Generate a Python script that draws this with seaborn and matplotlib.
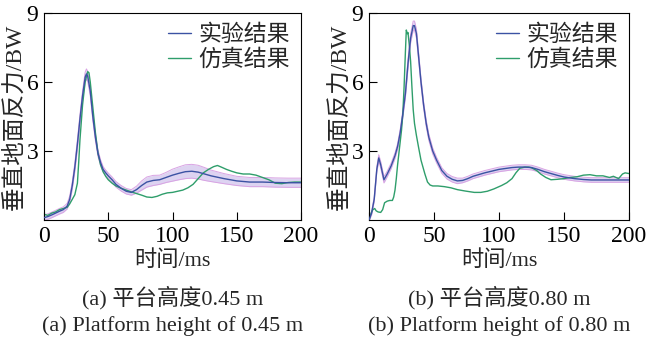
import numpy as np
import pandas as pd
import matplotlib
matplotlib.use("Agg")
import matplotlib.pyplot as plt
import seaborn as sns

sns.set_theme(style="ticks")
FONT = ['Liberation Serif', 'Noto Sans CJK SC', 'DejaVu Sans']
plt.rcParams['font.family'] = FONT
plt.rcParams['axes.unicode_minus'] = False

# ---------------- data ----------------
# (a) platform height 0.45 m
a_exp_t = [0, 3, 6, 9, 12, 15, 18, 20, 22, 24, 26, 28, 30, 32, 33, 34, 36, 38, 40, 42, 44, 46, 48, 50,
           53, 56, 60, 64, 68, 72, 76, 80, 85, 90, 95, 100, 105, 110, 115, 120, 125, 130, 140, 150,
           160, 170, 180, 190, 200]
a_exp_v = [0.1, 0.15, 0.22, 0.3, 0.38, 0.45, 0.6, 0.9, 1.5, 2.3, 3.3, 4.4, 5.4, 6.2, 6.35, 6.25, 5.6,
           4.5, 3.6, 2.9, 2.5, 2.2, 2.05, 1.92, 1.75, 1.55, 1.38, 1.25, 1.2, 1.32, 1.5, 1.65, 1.72,
           1.75, 1.85, 1.95, 2.03, 2.1, 2.12, 2.08, 2.0, 1.92, 1.8, 1.7, 1.65, 1.65, 1.63, 1.62, 1.62]
a_exp_sd = [0.12, 0.12, 0.12, 0.12, 0.12, 0.12, 0.12, 0.14, 0.16, 0.18, 0.2, 0.2, 0.2, 0.22, 0.22,
            0.22, 0.2, 0.18, 0.16, 0.14, 0.12, 0.12, 0.12, 0.12, 0.12, 0.12, 0.12, 0.12, 0.12, 0.15,
            0.2, 0.22, 0.22, 0.2, 0.22, 0.26, 0.28, 0.3, 0.3, 0.3, 0.28, 0.25, 0.22, 0.2, 0.2, 0.2,
            0.2, 0.2, 0.2]
a_sim_t = [0, 3, 6, 9, 12, 15, 18, 20, 22, 24, 26, 27, 28, 30, 32, 34, 35, 36, 38, 40, 42, 44, 46, 48,
           50, 53, 56, 60, 64, 68, 72, 76, 80, 84, 88, 92, 96, 100, 104, 108, 112, 116, 120, 124, 128,
           132, 135, 138, 142, 146, 150, 155, 160, 165, 170, 175, 180, 185, 190, 195, 200]
a_sim_v = [0.25, 0.2, 0.3, 0.35, 0.45, 0.5, 0.55, 0.7, 0.9, 1.1, 1.6, 2.5, 3.5, 5.0, 6.0, 6.45, 6.4,
           6.0, 4.9, 3.8, 2.9, 2.4, 2.1, 1.9, 1.75, 1.6, 1.48, 1.38, 1.3, 1.22, 1.15, 1.08, 1.0, 0.98,
           1.03, 1.12, 1.18, 1.2, 1.25, 1.3, 1.4, 1.55, 1.8, 2.05, 2.2, 2.32, 2.37, 2.3, 2.2, 2.12,
           2.05, 2.0, 2.0, 1.95, 1.85, 1.75, 1.6, 1.58, 1.63, 1.65, 1.65]

# (b) platform height 0.80 m
b_exp_t = [0, 2, 4, 6, 7.5, 9, 11.5, 14, 17, 20, 22, 24, 26, 28, 30, 32, 34, 35, 36.5, 38, 40, 42, 44,
           46, 49, 52, 56, 60, 64, 68, 72, 76, 80, 89, 100, 110, 115, 120, 125, 130, 135, 140, 145,
           150, 158, 165, 171, 180, 190, 200]
b_exp_v = [0.0, 0.3, 0.9, 2.2, 2.7, 2.4, 1.75, 2.0, 2.35, 2.8, 3.2, 3.8, 4.6, 5.5, 6.8, 7.9, 8.45, 8.45,
           8.1, 7.2, 6.0, 5.0, 4.2, 3.6, 3.0, 2.6, 2.15, 1.9, 1.77, 1.7, 1.72, 1.8, 1.9, 2.05, 2.2,
           2.28, 2.3, 2.3, 2.28, 2.2, 2.1, 2.02, 1.94, 1.87, 1.8, 1.76, 1.74, 1.74, 1.74, 1.74]
b_exp_sd = [0.05, 0.08, 0.1, 0.12, 0.14, 0.14, 0.14, 0.12, 0.12, 0.12, 0.12, 0.14, 0.16, 0.18, 0.2,
            0.2, 0.2, 0.2, 0.2, 0.18, 0.16, 0.14, 0.14, 0.14, 0.13, 0.12, 0.12, 0.12, 0.12, 0.12, 0.1,
            0.1, 0.1, 0.1, 0.1, 0.1, 0.1, 0.1, 0.1, 0.1, 0.1, 0.1, 0.1, 0.1, 0.1, 0.1, 0.1, 0.1, 0.1,
            0.1]
b_sim_t = [0, 1, 2, 3, 4.4, 5.5, 7, 9, 10.5, 12, 14, 16, 18, 19, 20, 21, 22, 23, 25, 26, 27, 28, 28.7,
           29.5, 30, 31, 32, 33, 34, 35, 36.4, 38, 40, 41.5, 43, 45, 47, 49, 53, 58, 63, 68, 74, 81,
           86, 91, 96, 102, 106, 110, 113, 116, 120, 123, 125, 129, 132, 136, 140, 145, 150, 155,
           160, 165, 170, 175, 180, 185, 188, 192, 195, 197, 200]
b_sim_v = [0.0, 0.2, 0.35, 0.45, 0.5, 0.4, 0.35, 0.33, 0.45, 0.75, 0.82, 0.85, 0.85, 1.0, 1.3, 1.8, 2.4,
           2.9, 3.9, 4.6, 5.8, 7.3, 8.26, 8.1, 8.15, 7.6, 6.9, 5.8, 4.8, 4.2, 3.7, 3.2, 2.6, 2.3,
           2.0, 1.65, 1.52, 1.48, 1.48, 1.45, 1.4, 1.32, 1.26, 1.2, 1.2, 1.25, 1.35, 1.5, 1.62, 1.8,
           2.05, 2.25, 2.3, 2.3, 2.27, 2.15, 2.0, 1.85, 1.75, 1.77, 1.8, 1.85, 1.88, 1.95, 1.97,
           1.92, 1.92, 1.85, 1.9, 1.8, 2.0, 2.05, 2.02]

series_labels = ['实验结果', '仿真结果']
x_label = '时间/ms'
y_label = '垂直地面反力/BW'
x_ticks = [0, 50, 100, 150, 200]
y_ticks = [3, 6, 9]
captions_cn = ['(a) 平台高度0.45 m', '(b) 平台高度0.80 m']
captions_en = ['(a) Platform height of 0.45 m', '(b) Platform height of 0.80 m']

# ---------------- style ----------------
C_EXP = '#3b52a3'
C_SIM = '#2f9e6b'
C_BAND = '#ddd3f1'
C_BAND_EDGE = '#d9a3e3'
FS = 16

fig = plt.figure(figsize=(6.5, 3.4), dpi=100)
axes = [fig.add_axes([44/650, 120/340, 257/650, 207/340]),
        fig.add_axes([369/650, 120/340, 260/650, 207/340])]

panels = [(a_exp_t, a_exp_v, a_exp_sd, a_sim_t, a_sim_v),
          (b_exp_t, b_exp_v, b_exp_sd, b_sim_t, b_sim_v)]

for i, (ax, (et, ev, esd, st, sv)) in enumerate(zip(axes, panels)):
    et = np.array(et); ev = np.array(ev); esd = np.array(esd)
    lo, hi = ev - esd, ev + esd
    ax.fill_between(et, lo, hi, color=C_BAND, lw=0, zorder=1)
    ax.plot(et, lo, color=C_BAND_EDGE, lw=0.7, zorder=1.5)
    ax.plot(et, hi, color=C_BAND_EDGE, lw=0.7, zorder=1.5)
    df_e = pd.DataFrame({'t': et, 'v': ev})
    df_s = pd.DataFrame({'t': st, 'v': sv})
    sns.lineplot(data=df_e, x='t', y='v', ax=ax, color=C_EXP, lw=1.0,
                 label=series_labels[0], zorder=3, sort=False)
    sns.lineplot(data=df_s, x='t', y='v', ax=ax, color=C_SIM, lw=1.0,
                 label=series_labels[1], zorder=2, sort=False)
    ax.set_xlim(0, 200)
    ax.set_ylim(0, 9)
    ax.set_xticks(x_ticks)
    ax.set_yticks(y_ticks)
    ax.tick_params(direction='in', length=6, width=0.8, labelsize=17, pad=4,
                   colors='black')
    for lab in ax.get_xticklabels() + ax.get_yticklabels():
        lab.set_family(FONT)
    for sp in ax.spines.values():
        sp.set_visible(True)
        sp.set_color('black')
        sp.set_linewidth(0.8)
    ax.set_xlabel(x_label, fontsize=FS, family=FONT, labelpad=3)
    ax.set_ylabel(y_label, fontsize=17, family=FONT, labelpad=1)
    ax.legend(loc='upper right', frameon=False, handlelength=1.0,
              handletextpad=0.3, labelspacing=0.15, borderaxespad=0.1,
              prop={'family': FONT, 'size': 16.5})
    ax.set_facecolor('white')

    cx = (ax.get_position().x0 + ax.get_position().x1) / 2
    fig.text(cx, 1 - 298/340, captions_cn[i], ha='center', va='center',
             fontsize=FS, family=FONT)
    fig.text(cx, 1 - 326/340, captions_en[i], ha='center', va='center',
             fontsize=FS, family=FONT)

fig.savefig('out.png', dpi=100, facecolor='white')
